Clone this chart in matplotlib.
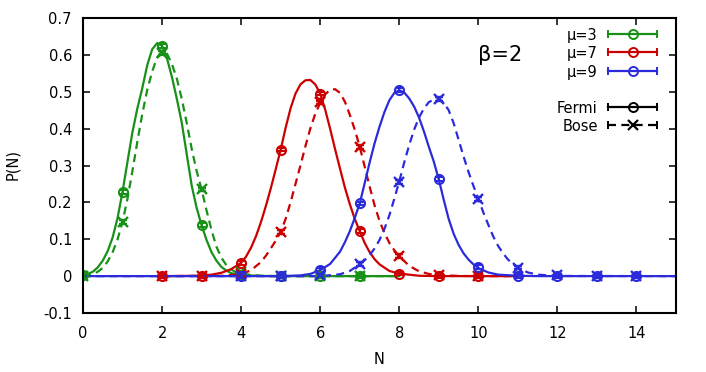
import matplotlib
matplotlib.use("Agg")
import matplotlib.pyplot as plt

# ---------------- data ----------------
# measured points
n_mu3 = [0, 1, 2, 3, 4, 5, 6, 7]
fermi_mu3 = [0.003, 0.229, 0.625, 0.138, 0.004, 0.0, 0.0, 0.0]
bose_mu3 = [0.0, 0.147, 0.605, 0.235, 0.010, 0.0, 0.0, 0.0]

n_mu7 = [2, 3, 4, 5, 6, 7, 8, 9, 10]
fermi_mu7 = [0.0, 0.0005, 0.036, 0.343, 0.495, 0.122, 0.007, 0.0, 0.0]
bose_mu7 = [0.0, 0.0, 0.005, 0.120, 0.471, 0.351, 0.054, 0.003, 0.0]

n_mu9 = [4, 5, 6, 7, 8, 9, 10, 11, 12, 13, 14]
fermi_mu9 = [0.0, 0.001, 0.016, 0.197, 0.504, 0.264, 0.024, 0.001, 0.0, 0.0, 0.0]
bose_mu9 = [0.0, 0.0, 0.002, 0.032, 0.256, 0.481, 0.210, 0.023, 0.002, 0.0, 0.0]

point_err = 0.005  # tiny error bars

# theory curves
cn_mu3_f = [0, 0.125, 0.25, 0.375, 0.5, 0.625, 0.75, 0.875, 1.0, 1.125, 1.25, 1.375,
            1.5, 1.625, 1.75, 1.875, 2.0, 2.125, 2.25, 2.375, 2.5, 2.625, 2.75, 2.875,
            3.0, 3.125, 3.25, 3.375, 3.5, 3.625, 3.75, 3.875, 4.0, 4.5, 5.0, 8.0]
cp_mu3_f = [0.003, 0.006, 0.012, 0.024, 0.042, 0.068, 0.105, 0.158, 0.229, 0.31, 0.39,
            0.455, 0.51, 0.572, 0.615, 0.632, 0.625, 0.59, 0.54, 0.48, 0.415, 0.33,
            0.245, 0.185, 0.138, 0.098, 0.065, 0.042, 0.025, 0.015, 0.008, 0.005,
            0.003, 0.0005, 0.0, 0.0]
cn_mu3_b = [0, 0.125, 0.25, 0.375, 0.5, 0.625, 0.75, 0.875, 1.0, 1.125, 1.25, 1.375,
            1.5, 1.625, 1.75, 1.875, 2.0, 2.125, 2.25, 2.375, 2.5, 2.625, 2.75, 2.875,
            3.0, 3.125, 3.25, 3.375, 3.5, 3.625, 3.75, 3.875, 4.0, 4.5, 5.0, 8.0]
cp_mu3_b = [0.0, 0.002, 0.005, 0.012, 0.022, 0.04, 0.065, 0.1, 0.147, 0.21, 0.285,
            0.365, 0.44, 0.505, 0.555, 0.593, 0.61, 0.603, 0.575, 0.535, 0.48, 0.415,
            0.345, 0.285, 0.235, 0.178, 0.125, 0.08, 0.05, 0.03, 0.018, 0.01, 0.006,
            0.001, 0.0, 0.0]

cn_mu7_f = [2.0, 3.0, 3.25, 3.5, 3.75, 4.0, 4.125, 4.25, 4.375, 4.5, 4.625, 4.75,
            4.875, 5.0, 5.125, 5.25, 5.375, 5.5, 5.625, 5.75, 5.875, 6.0, 6.125, 6.25,
            6.375, 6.5, 6.625, 6.75, 6.875, 7.0, 7.125, 7.25, 7.375, 7.5, 7.75, 8.0,
            8.5, 9.0, 11.0]
cp_mu7_f = [0.0, 0.001, 0.004, 0.009, 0.019, 0.036, 0.053, 0.077, 0.108, 0.146, 0.19,
            0.238, 0.29, 0.343, 0.402, 0.455, 0.495, 0.52, 0.531, 0.532, 0.52, 0.495,
            0.452, 0.4, 0.345, 0.292, 0.24, 0.195, 0.155, 0.122, 0.09, 0.065, 0.046,
            0.032, 0.014, 0.007, 0.001, 0.0, 0.0]
cn_mu7_b = [2.0, 3.5, 4.0, 4.25, 4.5, 4.625, 4.75, 4.875, 5.0, 5.125, 5.25, 5.375,
            5.5, 5.625, 5.75, 5.875, 6.0, 6.125, 6.25, 6.375, 6.5, 6.625, 6.75, 6.875,
            7.0, 7.125, 7.25, 7.375, 7.5, 7.625, 7.75, 7.875, 8.0, 8.25, 8.5, 8.75,
            9.0, 9.5, 10.0, 11.0]
cp_mu7_b = [0.0, 0.001, 0.005, 0.016, 0.038, 0.055, 0.075, 0.096, 0.12, 0.155, 0.2,
            0.25, 0.3, 0.352, 0.4, 0.44, 0.47, 0.493, 0.505, 0.507, 0.497, 0.473, 0.437,
            0.397, 0.351, 0.297, 0.243, 0.192, 0.15, 0.117, 0.09, 0.07, 0.054, 0.028,
            0.013, 0.006, 0.003, 0.0005, 0.0, 0.0]

cn_mu9_f = [0.0, 5.0, 5.5, 5.75, 6.0, 6.25, 6.5, 6.625, 6.75, 6.875, 7.0, 7.125, 7.25,
            7.375, 7.5, 7.625, 7.75, 7.875, 8.0, 8.125, 8.25, 8.375, 8.5, 8.625, 8.75,
            8.875, 9.0, 9.125, 9.25, 9.375, 9.5, 9.625, 9.75, 9.875, 10.0, 10.25, 10.5,
            11.0, 11.5, 15.0]
cp_mu9_f = [0.0, 0.0, 0.002, 0.006, 0.016, 0.033, 0.066, 0.092, 0.122, 0.158, 0.197,
            0.252, 0.308, 0.36, 0.405, 0.445, 0.477, 0.497, 0.504, 0.498, 0.482, 0.46,
            0.43, 0.392, 0.35, 0.31, 0.262, 0.207, 0.155, 0.115, 0.085, 0.062, 0.045,
            0.032, 0.022, 0.01, 0.004, 0.001, 0.0, 0.0]
cn_mu9_b = [0.0, 6.0, 6.5, 6.75, 7.0, 7.125, 7.25, 7.375, 7.5, 7.625, 7.75, 7.875, 8.0,
            8.125, 8.25, 8.375, 8.5, 8.625, 8.75, 8.875, 9.0, 9.125, 9.25, 9.375, 9.5,
            9.625, 9.75, 9.875, 10.0, 10.125, 10.25, 10.375, 10.5, 10.625, 10.75,
            10.875, 11.0, 11.25, 11.5, 12.0, 15.0]
cp_mu9_b = [0.0, 0.0, 0.005, 0.014, 0.032, 0.043, 0.057, 0.075, 0.098, 0.128, 0.165,
            0.21, 0.257, 0.308, 0.355, 0.397, 0.43, 0.455, 0.472, 0.479, 0.481, 0.47,
            0.45, 0.415, 0.37, 0.325, 0.283, 0.245, 0.21, 0.173, 0.14, 0.108, 0.082,
            0.062, 0.045, 0.033, 0.023, 0.01, 0.004, 0.0005, 0.0]

labels_mu = ["\u03bc=3", "\u03bc=7", "\u03bc=9"]
x_ticks = [0, 2, 4, 6, 8, 10, 12, 14]
y_ticks = [-0.1, 0.0, 0.1, 0.2, 0.3, 0.4, 0.5, 0.6, 0.7]
y_tick_labels = ["-0.1", "0", "0.1", "0.2", "0.3", "0.4", "0.5", "0.6", "0.7"]

# ---------------- styling ----------------
GREEN = "#179117"
RED = "#cc0000"
BLUE = "#2b2bdb"
LW = 1.6
DASH = (3.6, 2.4)
FS = 10.5

plt.rcParams["font.family"] = ["DejaVu Sans"]

fig = plt.figure(figsize=(7.06, 3.72), dpi=100)
ax = fig.add_axes([83 / 706, 1 - 313 / 372, 593 / 706, 295 / 372])

series = [
    (GREEN, n_mu3, fermi_mu3, bose_mu3, cn_mu3_f, cp_mu3_f, cn_mu3_b, cp_mu3_b),
    (RED, n_mu7, fermi_mu7, bose_mu7, cn_mu7_f, cp_mu7_f, cn_mu7_b, cp_mu7_b),
    (BLUE, n_mu9, fermi_mu9, bose_mu9, cn_mu9_f, cp_mu9_f, cn_mu9_b, cp_mu9_b),
]

for color, n, pf, pb, cnf, cpf, cnb, cpb in series:
    ax.plot(cnb, cpb, color=color, lw=LW, dashes=DASH)
    ax.plot(cnf, cpf, color=color, lw=LW)
    ax.errorbar(n, pf, yerr=[point_err] * len(n), fmt="o", mfc="none", mec=color,
                ecolor=color, ms=6.5, mew=1.5, capsize=3, elinewidth=1.3, capthick=1.3)
    ax.errorbar(n, pb, yerr=[point_err] * len(n), fmt="x", mec=color,
                ecolor=color, ms=6.5, mew=1.7, capsize=3, elinewidth=1.3, capthick=1.3)

ax.set_xlim(0, 15)
ax.set_ylim(-0.1, 0.7)
ax.set_xticks(x_ticks)
ax.set_xticklabels([str(t) for t in x_ticks])
ax.set_yticks(y_ticks)
ax.set_yticklabels(y_tick_labels)
ax.tick_params(direction="in", length=5, width=1.1, top=True, right=True,
               labelsize=FS, colors="black")
ax.tick_params(axis="x", pad=9.5)
ax.tick_params(axis="y", pad=8)
for s in ax.spines.values():
    s.set_linewidth(1.5)

ax.set_xlabel("N", fontsize=FS)
ax.xaxis.set_label_coords(0.5, -0.132)
ax.set_ylabel("P(N)", fontsize=FS)
ax.yaxis.set_label_coords(-0.106, 0.502)

ax.text(0.666, 0.875, "\u03b2=2", transform=ax.transAxes, fontsize=15,
        ha="left", va="center")

# ---------------- key (gnuplot-style) ----------------
tx, x1, x2, xm = 0.868, 0.886, 0.968, 0.928
rows = [
    (labels_mu[0], 0.945, GREEN, "o", None),
    (labels_mu[1], 0.884, RED, "o", None),
    (labels_mu[2], 0.821, BLUE, "o", None),
    ("Fermi", 0.697, "black", "o", None),
    ("Bose", 0.637, "black", "x", DASH),
]
for label, y, color, mk, dash in rows:
    ax.text(tx, y, label, transform=ax.transAxes, fontsize=FS, ha="right",
            va="center_baseline")
    kw = dict(transform=ax.transAxes, clip_on=False, color=color)
    if dash is None:
        ax.plot([x1, x2], [y, y], lw=LW, **kw)
    else:
        ax.plot([x1, x2], [y, y], lw=LW, dashes=dash, **kw)
    ax.plot([x1, x2], [y, y], ls="none", marker="|", ms=6, mew=1.4, **kw)
    if mk == "o":
        ax.plot([xm], [y], ls="none", marker="o", ms=6.5, mfc="none", mew=1.4,
                mec=color, transform=ax.transAxes, clip_on=False)
    else:
        ax.plot([xm], [y], ls="none", marker="x", ms=6.5, mew=1.6,
                mec=color, transform=ax.transAxes, clip_on=False)

fig.savefig("out.png", dpi=100)
